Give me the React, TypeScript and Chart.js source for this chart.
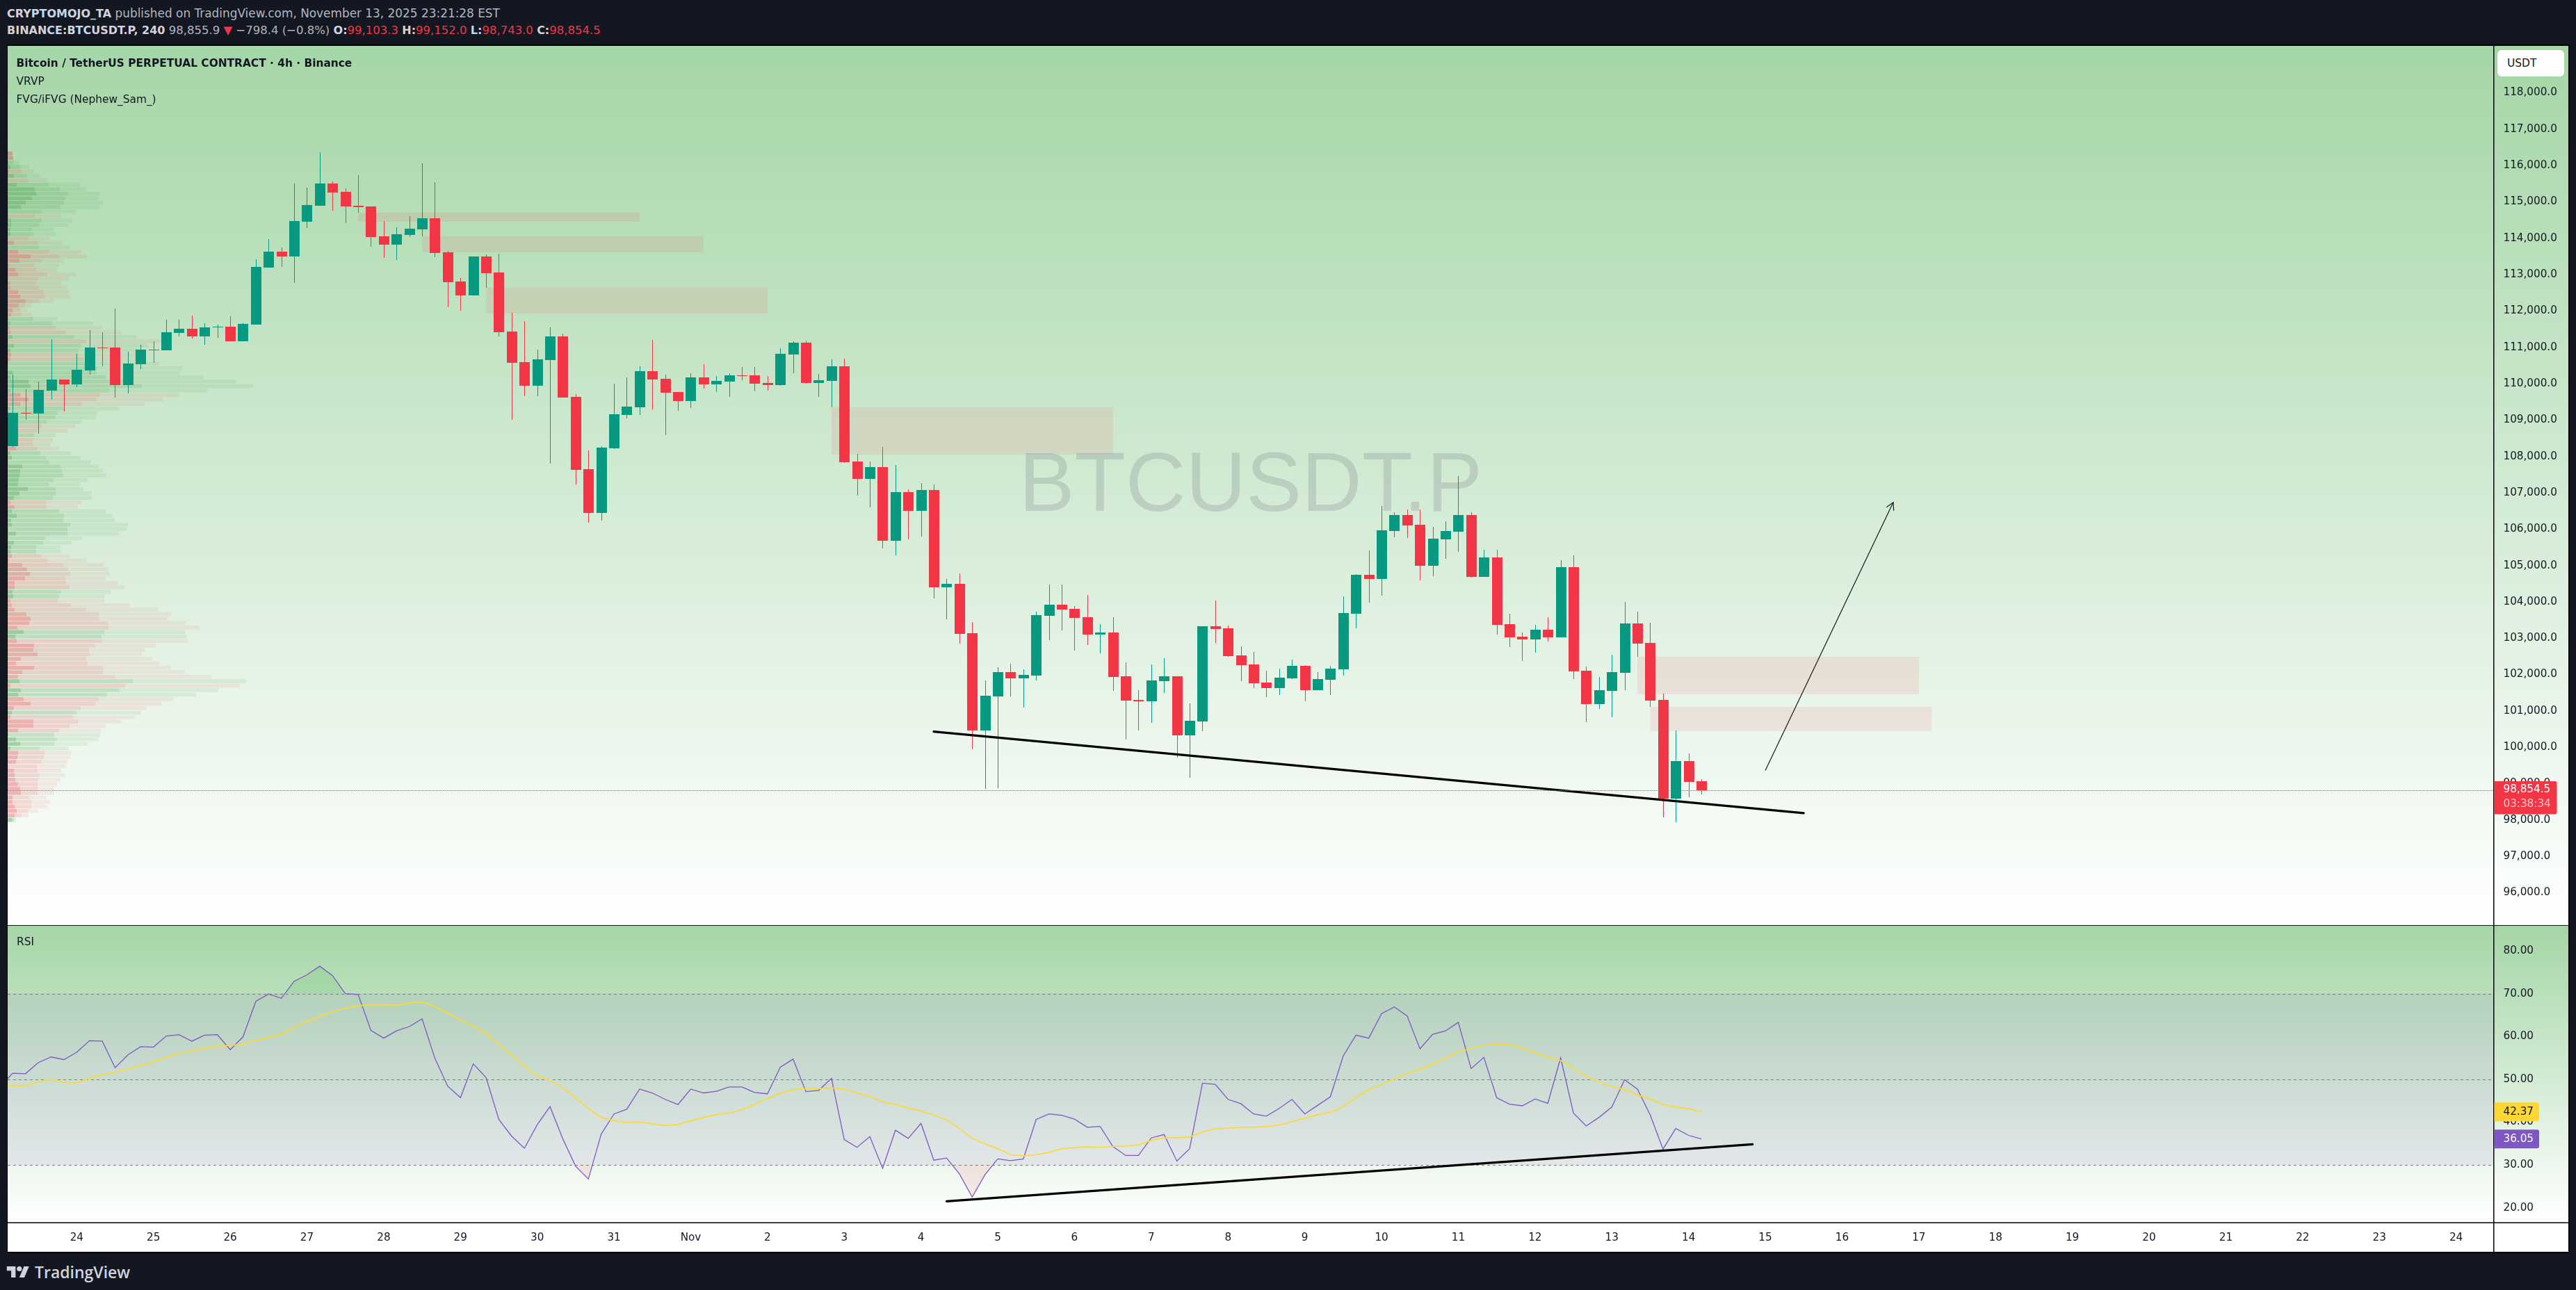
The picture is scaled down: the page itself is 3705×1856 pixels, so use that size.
import { useEffect, useRef } from "react"
import Chart from "chart.js/auto"

// 4h candles, bar 0 = Oct 23 04:00
const opens = [
  108281, 109196, 109181, 109810, 110117, 109978, 110366, 110995, 110995, 109964,
  110534, 110936, 110922, 111397, 111514, 111302, 111551, 111565, 111170, 111624,
  113196, 113635, 113496, 114454, 114893, 115508, 115274, 114893, 114879, 114052,
  113825, 114089, 114242, 114549, 113613, 112809, 112428, 113496, 113057, 111434,
  110593, 109942, 110651, 111302, 109635, 107652, 106446, 108223, 109144, 109349,
  110344, 110132, 109773, 109525, 110176, 109978, 110059, 110227, 110227, 110022,
  109964, 110805, 111127, 110022, 110081, 110476, 107863, 107386, 107710, 105679,
  107019, 106507, 107078, 104399, 104493, 103136, 100465, 101404, 102069, 101899,
  101976, 103614, 103921, 103810, 103580, 103102, 103162, 101950, 101302, 101267,
  101822, 101950, 100329, 100713, 103332, 103273, 102530, 102283, 101779, 101626,
  101899, 102240, 101575, 101856, 102146, 103674, 104749, 104629, 105952, 106387,
  106123, 104996, 105722, 105926, 106387, 104689, 105227, 103383, 103042, 102965,
  103238, 103025, 104954, 102104, 101191, 101549, 102052, 103409, 102872, 101302,
  98592, 99623, 99070,
]
const closes = [
  109196, 109181, 109832, 110117, 109978, 110380, 110995, 110973, 109964, 110556,
  110936, 110922, 111412, 111514, 111302, 111551, 111565, 111170, 111646, 113211,
  113635, 113496, 114476, 114915, 115508, 115259, 114879, 114857, 114037, 113825,
  114111, 114264, 114549, 113591, 112794, 112428, 113496, 113043, 111412, 110578,
  109942, 110673, 111302, 109620, 107630, 106446, 108245, 109159, 109371, 110344,
  110117, 109751, 109525, 110176, 109978, 110081, 110227, 110212, 110000, 109964,
  110819, 111127, 110022, 110095, 110476, 107842, 107386, 107710, 105679, 107019,
  106507, 107078, 104399, 104493, 103119, 100465, 101421, 102069, 101899, 101993,
  103640, 103921, 103793, 103563, 103102, 103162, 101933, 101284, 101267, 101839,
  101950, 100329, 100730, 103332, 103256, 102505, 102257, 101762, 101626, 101916,
  102240, 101575, 101882, 102163, 103691, 104749, 104629, 105969, 106387, 106106,
  104996, 105739, 105952, 106387, 104689, 105227, 103366, 103025, 102965, 103238,
  103025, 104954, 102087, 101191, 101575, 102069, 103409, 102855, 101284, 98592,
  99623, 99049, 98820,
]
const highs = [
  110256, 109839, 110059, 111222, 110117, 110819, 111470, 111412, 112063, 110878,
  111068, 111170, 111763, 111763, 111873, 111660, 111624, 111858, 111660, 113423,
  113979, 113745, 115508, 115391, 116363, 115566, 115369, 115734, 114879, 114476,
  114293, 114608, 116063, 115544, 113642, 112904, 113496, 113547, 113577, 111946,
  111719, 110936, 111551, 111375, 109715, 108164, 108281, 110000, 110176, 110476,
  111207, 110249, 109773, 110285, 110534, 110205, 110278, 110461, 110461, 110205,
  110973, 111170, 111185, 110271, 110673, 110688, 108068, 107863, 108264, 107761,
  107087, 107258, 107232, 104629, 104783, 103443, 101839, 102206, 102300, 102146,
  103725, 104476, 104476, 103887, 104194, 103384, 103571, 102334, 101575, 102283,
  102453, 101950, 101208, 103332, 104041, 103349, 102778, 102624, 102104, 102163,
  102411, 102257, 102069, 102240, 104152, 104766, 105414, 106635, 106473, 106541,
  106549, 106063, 106217, 107462, 106464, 105431, 105431, 103674, 103162, 103366,
  103580, 105150, 105278, 102223, 101933, 102547, 103998, 103733, 103426, 101473,
  100462, 99835, 99131,
]
const lows = [
  108259, 109013, 108632, 109561, 109239, 109905, 110249, 110476, 109620, 109737,
  110402, 110578, 110922, 111302, 111243, 111068, 111265, 111170, 111170, 111624,
  113196, 113211, 112772, 114279, 114893, 114762, 114418, 114710, 113767, 113460,
  113401, 114037, 114052, 113482, 112107, 112011, 112428, 112641, 111302, 109005,
  109656, 109656, 107806, 109620, 107228, 106175, 106233, 108201, 109042, 109144,
  109291, 108589, 109261, 109335, 109868, 109773, 109635, 110095, 109788, 109810,
  109942, 110285, 110000, 109635, 109349, 107821, 106925, 106601, 105474, 105278,
  105722, 105790, 104092, 103520, 102855, 99945, 98861, 98878, 101395, 101097,
  101831, 102948, 103213, 102658, 102812, 102581, 101549, 100218, 100465, 100670,
  101498, 99723, 99160, 100448, 102872, 102479, 101822, 101626, 101378, 101438,
  101882, 101267, 101575, 101438, 101976, 103273, 103981, 104169, 105773, 105756,
  104595, 104706, 105184, 105372, 104672, 104689, 103102, 102761, 102377, 102607,
  102906, 103025, 101882, 100696, 101054, 100824, 101575, 102479, 101114, 98080,
  97930, 98626, 98708,
]

// RSI and its moving average, starting one bar before the first candle
const rsiValues = [
  48.3, 51.4, 51.3, 53.9, 55.2, 54.6, 56.3, 59, 58.9, 52.7, 55.7,
  57.6, 57.5, 60.1, 60.4, 58.9, 60.3, 60.4, 56.9, 59.9, 68.2,
  69.9, 68.9, 72.9, 74.4, 76.4, 74.2, 70, 69.8, 61.4, 59.6,
  61.3, 62.3, 64.1, 54.9, 48.4, 45.7, 53.6, 50.4, 40.6, 36.7,
  33.9, 39.4, 43.6, 36.1, 29.7, 26.7, 37.2, 41.9, 43, 47.7,
  46.8, 45.3, 44.1, 47.7, 46.8, 47.2, 48.2, 48.2, 46.9, 46.6,
  52.8, 54.7, 47.1, 47.4, 50.2, 35.9, 34.1, 36.6, 29.2, 38.1,
  36.2, 39.7, 31.1, 31.6, 27.9, 22.5, 27.7, 31.4, 31, 31.4,
  40.6, 41.9, 41.6, 40.7, 38.8, 39, 34.3, 32.2, 32.2, 36.3,
  37.1, 30.9, 33.8, 49.1, 48.8, 45.3, 44.3, 41.9, 41.4, 43.2,
  45.3, 41.9, 43.9, 45.9, 55.4, 60.3, 59.6, 65.3, 66.9, 64.8,
  57.1, 60.5, 61.3, 63.3, 52.5, 55.1, 45.7, 44.2, 43.8, 45.4,
  44.4, 55, 42.1, 39.1, 41.1, 43.5, 49.9, 47.7, 41.7, 33.7,
  38.5, 36.9, 36.05,
]
const rsiAverage = [
  48.3, 48.4, 48.6, 49.4, 50, 49.3, 49.1, 50.2, 51.1, 51.6, 52.4,
  53.2, 54.1, 55.1, 56.1, 56.6, 57.2, 57.7, 57.9, 58.2, 59.1,
  59.8, 60.5, 62.1, 63.5, 64.7, 65.8, 66.6, 67.2, 67.3, 67.3,
  67.3, 67.8, 68.1, 67, 65.4, 63.8, 62.4, 60.8, 58.1, 55.6,
  53, 50.8, 49.8, 48, 45.7, 43.1, 41.1, 40.3, 39.9, 40,
  39.6, 39.2, 39.4, 40.3, 41.1, 41.7, 42.1, 42.9, 44.1, 45.5,
  46.7, 47.6, 47.8, 47.8, 48, 47.7, 46.8, 46, 44.7, 44.1,
  43.3, 42.6, 41.6, 40.5, 38.5, 36.2, 34.9, 33.8, 32.4, 32.1,
  32.4, 32.9, 33.8, 34, 34.2, 34.1, 34.3, 34.4, 34.7, 35.7,
  36.3, 36.3, 36.5, 37.7, 38.4, 38.6, 38.8, 38.8, 39, 39.3,
  40.1, 40.9, 41.7, 42.3, 43.6, 45.7, 47.6, 48.8, 50, 51.4,
  52.3, 53.6, 54.9, 56.4, 57.1, 58, 58.2, 58.1, 57.2, 56.2,
  55.1, 54.4, 52.5, 50.7, 49.4, 48.3, 47.6, 46.3, 45.4, 44.1,
  43.5, 43.1, 42.37,
]

// visible range volume profile, top row first: up/down side and the three stacked volumes
const vpTopLevel = 116330
const vpRowStep = 123
const vpSides = (
  "dduududuuuuuuudu" + "uuudd" + "u" + "ddddddddddddddd" + "uudd" + "ud" + "uudd" + "uuuuuuu" + "ddd" + "uuuu" + "dd" + "u" + "ddd" +
  "uuuuuuuuuuu" + "dd" + "uuuuuuuuuu" + "dddddddd" + "uu" + "ddddddd" + "uu" + "ddddddddd" + "ud" + "uu" + "ddd" + "u" + "dddd" + "uuuu" +
  "ddddddddddddddd" + "u"
).split("")
const vpCore = [
  21, 24, 3, 12, 6, 27, 2, 39, 117, 123, 105, 78, 57, 2, 3, 15, 15, 12, 12, 1,
  27, 2, 45, 99, 51, 6, 33, 45, 2, 12, 12, 45, 54, 78, 45, 21, 15, 3, 12, 9,
  12, 21, 3, 27, 12, 15, 12, 1, 1, 22, 12, 90, 99, 12, 54, 90, 54, 9, 2, 1,
  2, 15, 7, 2, 3, 3, 36, 12, 18, 2, 63, 54, 51, 48, 45, 87, 51, 27, 12, 30,
  18, 39, 15, 18, 2, 36, 3, 27, 15, 12, 18, 6, 63, 84, 96, 75, 30, 30, 21, 24,
  12, 18, 30, 81, 99, 93, 42, 69, 33, 39, 114, 111, 129, 57, 36, 114, 63, 45, 51, 12,
  57, 45, 69, 99, 27, 18, 12, 111, 111, 45, 2, 36, 54, 12, 45, 42, 36, 2, 27, 30,
  33, 45, 54, 57, 21, 21, 30, 39, 30, 18,
]
const vpValueArea = [
  21, 24, 27, 54, 60, 84, 87, 177, 225, 261, 249, 243, 228, 147, 117, 147, 138, 105, 111, 90,
  132, 135, 180, 222, 147, 114, 123, 171, 132, 123, 135, 156, 162, 138, 75, 54, 60, 108, 192, 207,
  249, 288, 339, 318, 306, 306, 327, 357, 387, 384, 423, 537, 579, 438, 396, 381, 321, 243, 216, 207,
  168, 147, 126, 114, 108, 108, 129, 141, 165, 177, 228, 234, 240, 198, 177, 207, 207, 195, 165, 168,
  222, 243, 240, 270, 258, 258, 162, 153, 123, 123, 144, 171, 240, 261, 270, 249, 252, 267, 231, 222,
  216, 273, 339, 393, 396, 432, 435, 417, 405, 408, 378, 351, 354, 339, 345, 411, 414, 462, 540, 507,
  483, 429, 393, 381, 315, 297, 282, 303, 267, 222, 201, 213, 201, 138, 159, 156, 147, 126, 129, 138,
  132, 129, 129, 129, 93, 102, 102, 87, 60, 27,
]
const vpTotal = [
  21, 24, 51, 93, 114, 141, 171, 312, 336, 399, 390, 411, 396, 294, 234, 279, 261, 198, 210, 180,
  237, 270, 318, 342, 240, 222, 213, 294, 264, 234, 258, 264, 270, 198, 105, 87, 105, 213, 369, 405,
  489, 555, 660, 609, 567, 597, 597, 657, 753, 744, 846, 984, 1059, 864, 741, 672, 591, 480, 387, 381,
  318, 291, 258, 207, 195, 186, 222, 273, 315, 357, 393, 411, 426, 345, 312, 327, 363, 363, 318, 303,
  423, 450, 462, 519, 513, 480, 321, 276, 228, 231, 270, 339, 417, 435, 441, 423, 477, 504, 444, 420,
  417, 528, 648, 705, 690, 768, 828, 765, 774, 777, 639, 591, 579, 621, 654, 705, 762, 879, 1029, 1002,
  909, 813, 714, 663, 600, 576, 552, 492, 423, 402, 399, 390, 345, 261, 276, 270, 258, 252, 231, 249,
  228, 213, 204, 201, 168, 183, 171, 132, 90, 36,
]

// axis ticks
const priceTicks = [96000, 97000, 98000, 99000, 100000, 101000, 102000, 103000, 104000, 105000, 106000, 107000, 108000, 109000, 110000, 111000, 112000, 113000, 114000, 115000, 116000, 117000, 118000]
const rsiTicks = [20, 30, 40, 50, 60, 70, 80]
const dayTickBars = [5, 11, 17, 23, 29, 35, 41, 47, 53, 59, 65, 71, 77, 83, 89, 95, 101, 107, 113, 119, 125, 131, 137, 143, 149, 155, 161, 167, 173, 179, 185, 191]
const dayTickLabels = ["24", "25", "26", "27", "28", "29", "30", "31", "Nov", "2", "3", "4", "5", "6", "7", "8", "9", "10", "11", "12", "13", "14", "15", "16", "17", "18", "19", "20", "21", "22", "23", "24"]

// fair value gap boxes
const fvgStartBars = [27, 32, 37, 64, 127, 128]
const fvgEndBars = [49, 54, 59, 86, 149, 150]
const fvgHighs = [114703, 114052, 112641, 109348, 102490, 101111]
const fvgLows = [114454, 113613, 111931, 108051, 101459, 100442]

// drawings
const supportBars = [72, 140]
const supportPrices = [100431, 98189]
const arrowBars = [137, 147]
const arrowPrices = [99363, 106735]
const rsiTrendBars = [73, 136]
const rsiTrendValues = [21.5, 34.8]
const rsiLevels = [70, 50, 30]

const GREEN = "#089981"
const RED = "#f23645"
const INK = "#131722"
const FONT = "'DejaVu Sans', sans-serif"
const AXIS_FONT = { family: "'DejaVu Sans'", size: 15.2 }
const BAR_MIN = -0.397
const BAR_MAX = 193.93
const AXIS_WIDTH = 107.5

function pageGradient(chart: any, height: number) {
  const { ctx } = chart
  const g = ctx.createLinearGradient(0, 0, 0, height)
  g.addColorStop(0, "#a5d6a7")
  g.addColorStop(1, "#ffffff")
  ctx.save()
  ctx.fillStyle = "#ffffff"
  ctx.fillRect(0, 0, chart.width, chart.height)
  ctx.fillStyle = g
  ctx.fillRect(0, 0, chart.width, height)
  ctx.restore()
}

function axisRule(chart: any) {
  const { ctx, chartArea } = chart
  ctx.save()
  ctx.fillStyle = "#000"
  ctx.fillRect(chartArea.right - 0.5, 0, 1.5, chart.height)
  ctx.restore()
}

function valueTag(chart: any, y: number, h: number, w: number, bg: string, lines: { text: string; color: string; dy: number }[]) {
  const { ctx, chartArea } = chart
  ctx.save()
  ctx.fillStyle = bg
  ctx.beginPath()
  ctx.roundRect(chartArea.right + 1, y, w, h, [0, 3, 3, 0])
  ctx.fill()
  ctx.font = "15.2px 'DejaVu Sans'"
  ctx.textAlign = "left"
  ctx.textBaseline = "middle"
  lines.forEach((l) => {
    ctx.fillStyle = l.color
    ctx.fillText(l.text, chartArea.right + 14, y + l.dy)
  })
  ctx.restore()
}

// candles sit on whole pixels, like the original
const snapCandles = {
  id: "snapCandles",
  afterDatasetsUpdate(chart: any) {
    chart.data.datasets.forEach((ds: any, i: number) => {
      if (!ds.snap) return
      chart.getDatasetMeta(i).data.forEach((el: any) => {
        el.x = Math.round(el.x) + 0.5
        el.y = Math.round(el.y)
        el.base = Math.round(el.base)
      })
    })
  },
}

const priceDecor = {
  id: "priceDecor",
  beforeDraw(chart: any) {
    pageGradient(chart, chart.height)
  },
  beforeDatasetsDraw(chart: any) {
    const { ctx, chartArea, scales } = chart
    ctx.save()
    ctx.beginPath()
    ctx.rect(chartArea.left, chartArea.top, chartArea.width, chartArea.height)
    ctx.clip()
    ctx.font = "120px 'Liberation Sans'"
    ctx.fillStyle = "rgba(120,123,134,0.25)"
    ctx.textAlign = "center"
    ctx.textBaseline = "middle"
    ctx.fillText("BTCUSDT.P", (chartArea.left + chartArea.right) / 2, 636)
    ctx.fillStyle = "rgba(242,54,69,0.1)"
    fvgStartBars.forEach((start, i) => {
      const x0 = scales.x.getPixelForValue(start)
      const x1 = scales.x.getPixelForValue(fvgEndBars[i])
      const y0 = scales.y.getPixelForValue(fvgHighs[i])
      const y1 = scales.y.getPixelForValue(fvgLows[i])
      ctx.fillRect(x0, y0, x1 - x0, y1 - y0)
    })
    ctx.restore()
  },
  afterDatasetsDraw(chart: any) {
    const { ctx, chartArea, scales } = chart
    const lastClose = closes[closes.length - 1]
    const y = Math.round(scales.y.getPixelForValue(lastClose)) + 0.5
    ctx.save()
    ctx.strokeStyle = RED
    ctx.lineWidth = 1
    ctx.setLineDash([1, 1])
    ctx.beginPath()
    ctx.moveTo(chartArea.left, y)
    ctx.lineTo(chartArea.right, y)
    ctx.stroke()
    ctx.setLineDash([])
    // arrow head
    const tipX = scales.x.getPixelForValue(arrowBars[1])
    const tipY = scales.y.getPixelForValue(arrowPrices[1])
    const angle = Math.atan2(
      scales.y.getPixelForValue(arrowPrices[0]) - tipY,
      scales.x.getPixelForValue(arrowBars[0]) - tipX,
    )
    ctx.strokeStyle = INK
    ctx.lineWidth = 1.2
    ctx.beginPath()
    ctx.moveTo(tipX + 12 * Math.cos(angle + 0.5), tipY + 12 * Math.sin(angle + 0.5))
    ctx.lineTo(tipX, tipY)
    ctx.lineTo(tipX + 12 * Math.cos(angle - 0.5), tipY + 12 * Math.sin(angle - 0.5))
    ctx.stroke()
    ctx.restore()
  },
  afterDraw(chart: any) {
    axisRule(chart)
    const y = chart.scales.y.getPixelForValue(closes[closes.length - 1])
    valueTag(chart, y - 13, 47.5, 90, RED, [
      { text: "98,854.5", color: "#ffffff", dy: 12 },
      { text: "03:38:34", color: "rgba(255,255,255,0.7)", dy: 33 },
    ])
  },
}

const rsiDecor = {
  id: "rsiDecor",
  beforeDraw(chart: any) {
    pageGradient(chart, chart.chartArea.bottom)
  },
  beforeDatasetsDraw(chart: any) {
    const { ctx, chartArea, scales } = chart
    const y70 = scales.y.getPixelForValue(rsiLevels[0])
    const y30 = scales.y.getPixelForValue(rsiLevels[2])
    ctx.save()
    ctx.fillStyle = "rgba(126,87,194,0.1)"
    ctx.fillRect(chartArea.left, y70, chartArea.width, y30 - y70)
    ctx.strokeStyle = "#787b86"
    ctx.lineWidth = 1
    ctx.setLineDash([4, 4])
    rsiLevels.forEach((lvl) => {
      const y = Math.round(scales.y.getPixelForValue(lvl)) + 0.5
      ctx.beginPath()
      ctx.moveTo(chartArea.left, y)
      ctx.lineTo(chartArea.right, y)
      ctx.stroke()
    })
    ctx.restore()
  },
  afterDraw(chart: any) {
    const { ctx, chartArea, scales } = chart
    ctx.save()
    ctx.fillStyle = INK
    ctx.fillRect(0, 0, chart.width, 1)
    ctx.fillStyle = "#000"
    ctx.fillRect(0, chartArea.bottom - 0.5, chart.width, 1.5)
    ctx.restore()
    axisRule(chart)
    const ma = rsiAverage[rsiAverage.length - 1]
    const rsi = rsiValues[rsiValues.length - 1]
    valueTag(chart, scales.y.getPixelForValue(ma) - 13.5, 27, 64.5, "#fdd835", [{ text: ma.toFixed(2), color: INK, dy: 13.5 }])
    valueTag(chart, scales.y.getPixelForValue(rsi) - 13.5, 27, 64.5, "#7e57c2", [{ text: rsi.toFixed(2), color: "#ffffff", dy: 13.5 }])
  },
}

// the tick padding must not shrink the plot
const fitAxisWidth = (scale: any) => {
  scale.width = AXIS_WIDTH
  scale.paddingTop = 0
  scale.paddingBottom = 0
}

function buildPriceChart(canvas: HTMLCanvasElement) {
  const bars = opens.map((_, i) => i)
  const colors = opens.map((o, i) => (closes[i] >= o ? GREEN : RED))
  const vpColors = (upAlpha: number, downAlpha: number) =>
    vpSides.map((s) => (s === "u" ? `rgba(67,160,71,${upAlpha})` : `rgba(242,54,69,${downAlpha})`))
  const vpLayer = (values: number[], upAlpha: number, downAlpha: number, order: number) => ({
    type: "bar",
    indexAxis: "y",
    xAxisID: "xVol",
    data: values.map((v, i) => ({ x: v, y: vpTopLevel - i * vpRowStep })),
    backgroundColor: vpColors(upAlpha, downAlpha),
    barThickness: 5.6,
    grouped: false,
    inflateAmount: 0,
    order,
  })
  return new Chart(canvas, {
    type: "bar",
    data: {
      datasets: [
        {
          type: "line",
          data: supportBars.map((x, i) => ({ x, y: supportPrices[i] })),
          borderColor: "#000",
          borderWidth: 3.2,
          borderCapStyle: "round",
          pointRadius: 0,
          order: 1,
        },
        {
          type: "line",
          data: arrowBars.map((x, i) => ({ x, y: arrowPrices[i] })),
          borderColor: INK,
          borderWidth: 1.2,
          pointRadius: 0,
          order: 1,
        },
        {
          data: bars.map((x, i) => ({ x, y: [opens[i], closes[i]] })),
          backgroundColor: colors,
          barThickness: 15,
          grouped: false,
          inflateAmount: 0,
          snap: true,
          order: 2,
        },
        {
          data: bars.map((x, i) => ({ x, y: [lows[i], highs[i]] })),
          backgroundColor: colors,
          barThickness: 1,
          grouped: false,
          inflateAmount: 0,
          snap: true,
          order: 3,
        },
        vpLayer(vpCore, 0.28, 0.22, 8),
        vpLayer(vpValueArea, 0.14, 0.1, 9),
        vpLayer(vpTotal, 0.1, 0.08, 10),
      ] as any,
    },
    options: {
      responsive: false,
      animation: false,
      devicePixelRatio: 1,
      events: [],
      layout: { padding: 0, autoPadding: false },
      plugins: { legend: { display: false }, tooltip: { enabled: false } },
      scales: {
        x: { type: "linear", display: false, offset: false, min: BAR_MIN, max: BAR_MAX, grid: { display: false } },
        xVol: { type: "linear", axis: "x", display: false, offset: false, min: 0, max: 10726.5, grid: { display: false } },
        y: {
          type: "linear",
          position: "right",
          offset: false,
          beginAtZero: false,
          min: 95110,
          max: 119290,
          afterFit: fitAxisWidth,
          afterBuildTicks: (scale: any) => {
            scale.ticks = priceTicks.map((value) => ({ value }))
          },
          grid: { display: false, drawTicks: false },
          border: { display: false },
          ticks: {
            autoSkip: false,
            padding: 14,
            color: INK,
            font: AXIS_FONT,
            callback: (v: number) => v.toLocaleString("en-US", { minimumFractionDigits: 1 }),
          },
        },
      },
    } as any,
    plugins: [snapCandles, priceDecor],
  })
}

function buildRsiChart(canvas: HTMLCanvasElement) {
  const series = (values: number[]) => values.map((y, i) => ({ x: i - 1, y }))
  return new Chart(canvas, {
    type: "line",
    data: {
      datasets: [
        {
          data: series(rsiAverage),
          borderColor: "#fdd835",
          borderWidth: 1.7,
          pointRadius: 0,
          order: 2,
        },
        {
          data: series(rsiValues),
          borderColor: "#7e57c2",
          borderWidth: 1.3,
          pointRadius: 0,
          fill: { target: { value: 70 }, above: "rgba(76,175,80,0.15)", below: "transparent" },
          order: 3,
        },
        {
          data: series(rsiValues),
          borderColor: "transparent",
          borderWidth: 0,
          pointRadius: 0,
          fill: { target: { value: 30 }, above: "transparent", below: "rgba(242,54,69,0.1)" },
          order: 4,
        },
        {
          data: rsiTrendBars.map((x, i) => ({ x, y: rsiTrendValues[i] })),
          borderColor: "#000",
          borderWidth: 3.2,
          borderCapStyle: "round",
          pointRadius: 0,
          order: 1,
        },
      ] as any,
    },
    options: {
      responsive: false,
      animation: false,
      devicePixelRatio: 1,
      events: [],
      layout: { padding: 0, autoPadding: false },
      plugins: { legend: { display: false }, tooltip: { enabled: false } },
      scales: {
        x: {
          type: "linear",
          min: BAR_MIN,
          max: BAR_MAX,
          grid: { display: false, drawTicks: false },
          border: { display: false },
          afterBuildTicks: (scale: any) => {
            scale.ticks = dayTickBars.map((value) => ({ value }))
          },
          afterFit: (scale: any) => {
            scale.height = 42
            scale.paddingLeft = 0
            scale.paddingRight = 0
          },
          ticks: {
            autoSkip: false,
            maxRotation: 0,
            padding: 13,
            color: INK,
            font: AXIS_FONT,
            callback: (v: number) => dayTickLabels[dayTickBars.indexOf(v)],
          },
        },
        y: {
          type: "linear",
          position: "right",
          min: 16.53,
          max: 86,
          afterFit: fitAxisWidth,
          afterBuildTicks: (scale: any) => {
            scale.ticks = rsiTicks.map((value) => ({ value }))
          },
          grid: { display: false, drawTicks: false },
          border: { display: false },
          ticks: {
            autoSkip: false,
            padding: 14,
            color: INK,
            font: AXIS_FONT,
            callback: (v: number) => v.toFixed(2),
          },
        },
      },
    } as any,
    plugins: [rsiDecor],
  })
}

const abs = (left: number, top: number, extra: any = {}) => ({ position: "absolute", left, top, whiteSpace: "nowrap", ...extra }) as any

export default function App() {
  const priceRef = useRef<HTMLCanvasElement>(null)
  const rsiRef = useRef<HTMLCanvasElement>(null)

  useEffect(() => {
    document.body.style.margin = "0"
    const priceChart = buildPriceChart(priceRef.current!)
    const rsiChart = buildRsiChart(rsiRef.current!)
    return () => {
      priceChart.destroy()
      rsiChart.destroy()
    }
  }, [])

  const head = { color: "#b2b5be", fontFamily: FONT, fontSize: 16.5, lineHeight: "20px" }
  const strong = { fontWeight: 700, color: "#d1d4dc", fontSize: 16 }
  const num = { color: RED }
  const legend = { color: INK, fontFamily: FONT, fontSize: 15.4, lineHeight: "20px" }

  return (
    <div style={{ position: "absolute", left: 0, top: 0, width: 3705, height: 1856, background: "#131722", overflow: "hidden" }}>
      <div style={abs(10, 64, { width: 3686, height: 1739, background: "#000" })} />
      <canvas ref={priceRef} width={3683} height={1265} style={abs(11, 66, { display: "block" })} />
      <canvas ref={rsiRef} width={3683} height={470} style={abs(11, 1331, { display: "block" })} />

      <div style={abs(10, 9, { ...head, fontSize: 16.9 })}>
        <span style={strong}>CRYPTOMOJO_TA</span> published on TradingView.com, November 13, 2025 23:21:28 EST
      </div>
      <div style={abs(10, 34, head)}>
        <span style={strong}>BINANCE:BTCUSDT.P, 240</span> 98,855.9 <span style={num}>▼</span> −798.4 (−0.8%){" "}
        <span style={strong}>O:</span><span style={num}>99,103.3</span> <span style={strong}>H:</span><span style={num}>99,152.0</span>{" "}
        <span style={strong}>L:</span><span style={num}>98,743.0</span> <span style={strong}>C:</span><span style={num}>98,854.5</span>
      </div>

      <div style={abs(23.5, 81, { ...legend, fontWeight: 700 })}>Bitcoin / TetherUS PERPETUAL CONTRACT · 4h · Binance</div>
      <div style={abs(23.5, 107, legend)}>VRVP</div>
      <div style={abs(23.5, 133, legend)}>FVG/iFVG (Nephew_Sam_)</div>
      <div style={abs(24, 1345, legend)}>RSI</div>

      <div style={abs(3592, 72, { width: 96, height: 38, background: "#fff", borderRadius: 6 })} />
      <div style={abs(3606, 81, legend)}>USDT</div>

      <svg style={abs(9, 1821)} width="34" height="18" viewBox="0 0 36 20" fill="#d1d4dc">
        <path d="M14 19H7V8H0V1h14v18zM28 19h-8l7.5-18h8L28 19z" />
        <circle cx="20" cy="5" r="4" />
      </svg>
      <div style={abs(50, 1816, { color: "#d1d4dc", fontFamily: "'Open Sans', sans-serif", fontSize: 23, fontWeight: 600, lineHeight: "28px" })}>TradingView</div>
    </div>
  )
}
